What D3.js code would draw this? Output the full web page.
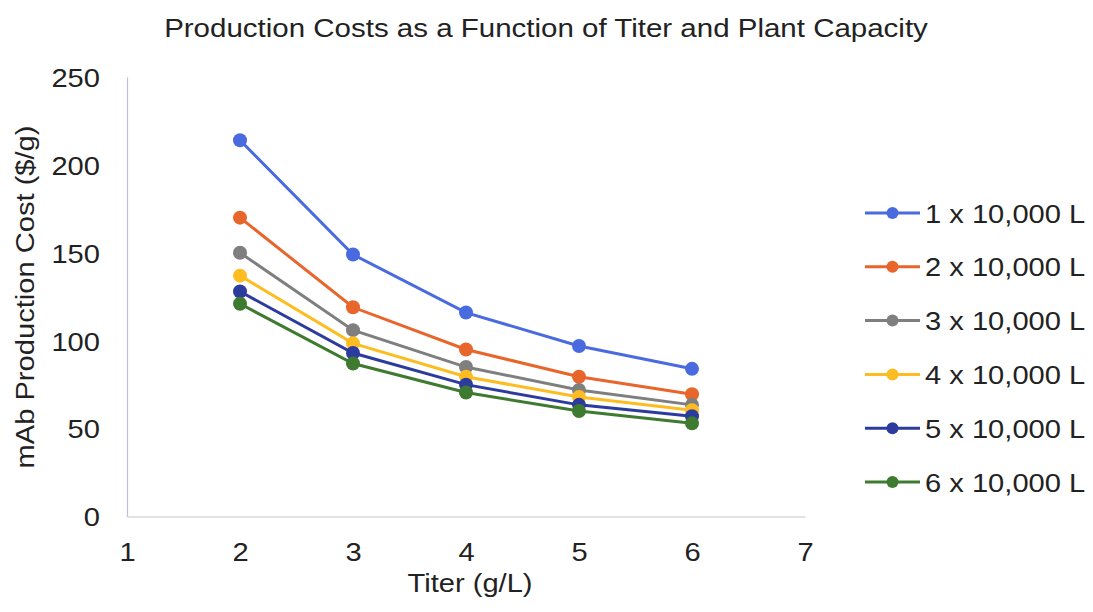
<!DOCTYPE html>
<html>
<head>
<meta charset="utf-8">
<script src="https://cdn.jsdelivr.net/npm/d3@7"></script>
<style>
  html, body { margin: 0; padding: 0; background: #fff; }
  svg { display: block; font-family: "Liberation Sans", Arial, sans-serif; }
</style>
</head>
<body>
<svg id="chart" width="1093" height="612"></svg>
<script>
// ---- data ----
const titers = [2, 3, 4, 5, 6];
const seriesNames = ["1 x 10,000 L", "2 x 10,000 L", "3 x 10,000 L", "4 x 10,000 L", "5 x 10,000 L", "6 x 10,000 L"];
const cap1 = [214, 149, 116, 97, 84];
const cap2 = [170, 119, 95, 79.5, 69.5];
const cap3 = [150, 106, 85, 72, 63.5];
const cap4 = [137, 98.5, 79.5, 68, 60.5];
const cap5 = [128, 93, 75, 63.5, 57];
const cap6 = [121, 87, 70.5, 60, 53];
const seriesValues = [cap1, cap2, cap3, cap4, cap5, cap6];
const seriesColors = ["#4A6BE0", "#E8652B", "#7F7F7F", "#FDBD22", "#2C3C9E", "#3E7A30"];
const xTicks = [1, 2, 3, 4, 5, 6, 7];
const yTicks = [0, 50, 100, 150, 200, 250];
const titleText = "Production Costs as a Function of Titer and Plant Capacity";
const xTitle = "Titer (g/L)";
const yTitle = "mAb Production Cost ($/g)";

// ---- drawing ----
const svg = d3.select("#chart");
const SX = 1.12; // horizontal text stretch seen in reference

const x = d3.scaleLinear().domain([1, 7]).range([127, 805]);
const y = d3.scaleLinear().domain([0, 250]).range([516.5, 77]);

// title
svg.append("g").attr("transform", "translate(546,37) scale(1.18,1)")
  .append("text").attr("text-anchor", "middle")
  .attr("font-size", 25).attr("fill", "#222").text(titleText);

// axes
const gx = svg.append("g").attr("transform", `translate(0,${y(0)})`)
  .call(d3.axisBottom(x).tickValues(xTicks).tickSize(0).tickFormat(d3.format("d")));
gx.select(".domain").attr("stroke", "#c4c6cc").attr("stroke-width", 1.2);
gx.selectAll("text").attr("font-size", 26).attr("fill", "#222")
  .attr("font-family", "Liberation Sans, Arial, sans-serif")
  .attr("y", 26).attr("dy", "0.71em").attr("transform", `scale(${SX},1)`);

const gy = svg.append("g").attr("transform", `translate(${x(1)},0)`)
  .call(d3.axisLeft(y).tickValues(yTicks).tickSize(0));
gy.select(".domain").attr("stroke", "#bcc0d2").attr("stroke-width", 1.2);
gy.selectAll("text").attr("font-size", 26).attr("fill", "#222")
  .attr("font-family", "Liberation Sans, Arial, sans-serif")
  .attr("x", -27 / SX).attr("dy", "0.36em").attr("transform", `scale(${SX},1)`);

// axis titles
svg.append("g").attr("transform", "translate(470,592) scale(1.12,1)")
  .append("text").attr("text-anchor", "middle").attr("font-size", 26)
  .attr("fill", "#222").text(xTitle);
svg.append("g").attr("transform", "translate(34,297) rotate(-90) scale(1.12,1)")
  .append("text").attr("text-anchor", "middle").attr("font-size", 26)
  .attr("fill", "#222").text(yTitle);

// lines + markers
const line = d3.line().x((d, i) => x(titers[i])).y(d => y(d));
seriesValues.forEach((vals, si) => {
  const g = svg.append("g");
  g.append("path").datum(vals).attr("d", line)
    .attr("fill", "none").attr("stroke", seriesColors[si]).attr("stroke-width", 3);
  g.selectAll("circle").data(vals).join("circle")
    .attr("cx", (d, i) => x(titers[i])).attr("cy", d => y(d))
    .attr("r", 7).attr("fill", seriesColors[si]);
});

// legend
const legend = svg.append("g");
seriesNames.forEach((name, i) => {
  const ly = 213 + i * 53.8;
  const row = legend.append("g").attr("transform", `translate(0,${ly})`);
  row.append("line").attr("x1", 865).attr("x2", 920).attr("y1", 0).attr("y2", 0)
    .attr("stroke", seriesColors[i]).attr("stroke-width", 3);
  row.append("circle").attr("cx", 892.5).attr("cy", 0).attr("r", 6).attr("fill", seriesColors[i]);
  row.append("g").attr("transform", `translate(925,9.5) scale(${SX},1)`)
    .append("text").attr("font-size", 26).attr("fill", "#222").text(name);
});
</script>
</body>
</html>
